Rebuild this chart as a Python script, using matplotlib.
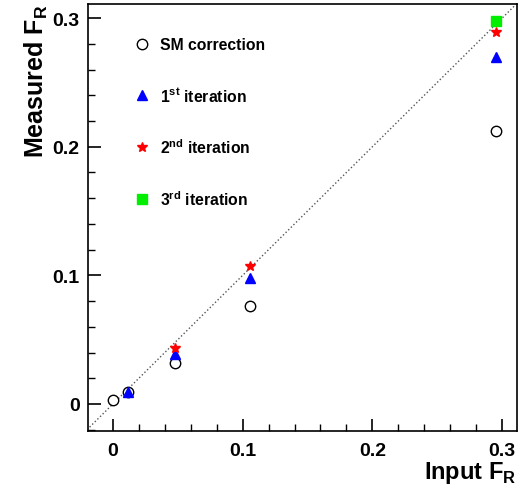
import numpy as np
import matplotlib.pyplot as plt
from matplotlib.ticker import MultipleLocator

plt.rcParams['font.family'] = ['Liberation Sans', 'DejaVu Sans']
plt.rcParams['font.weight'] = 'bold'
plt.rcParams['mathtext.fontset'] = 'custom'
plt.rcParams['mathtext.rm'] = 'Liberation Sans:bold'
plt.rcParams['mathtext.bf'] = 'Liberation Sans:bold'

# input and measured F_R for each correction step
sm_x = [0.0, 0.012, 0.0477, 0.106, 0.295]
sm_y = [0.0033, 0.009, 0.032, 0.0764, 0.212]
it1_x = [0.012, 0.0477, 0.106, 0.295]
it1_y = [0.009, 0.039, 0.098, 0.2696]
it2_x = [0.0477, 0.106, 0.295]
it2_y = [0.0435, 0.1075, 0.289]
it3_x = [0.295]
it3_y = [0.298]

fig = plt.figure(figsize=(5.22, 4.89), dpi=100)
ax = fig.add_axes([88 / 522, 57 / 489, 429 / 522, 427 / 489])

ax.plot([-0.02, 0.31], [-0.02, 0.31], ls=':', color='#555555', lw=1.0, zorder=1)

ax.plot(sm_x, sm_y, 'o', mfc='white', mec='black', mew=1.0, ms=7.5, ls='none',
        label='SM correction', zorder=2)
ax.plot(it1_x, it1_y, '^', color='blue', ms=7, ls='none',
        label=r'1$^{\mathrm{st}}$ iteration', zorder=3)
ax.plot(it2_x, it2_y, '*', color='red', ms=7, ls='none',
        label=r'2$^{\mathrm{nd}}$ iteration', zorder=4)
ax.plot(it3_x, it3_y, 's', color='#00ee00', ms=7, ls='none',
        label=r'3$^{\mathrm{rd}}$ iteration', zorder=5)

ax.set_xlim(-0.0192, 0.3115)
ax.set_ylim(-0.021, 0.311)

ax.xaxis.set_major_locator(MultipleLocator(0.1))
ax.yaxis.set_major_locator(MultipleLocator(0.1))
ax.xaxis.set_minor_locator(MultipleLocator(0.02))
ax.yaxis.set_minor_locator(MultipleLocator(0.02))
fmt = plt.FuncFormatter(lambda v, p: '0' if abs(v) < 1e-9 else f'{v:.1f}')
ax.xaxis.set_major_formatter(fmt)
ax.yaxis.set_major_formatter(fmt)
ax.tick_params(which='major', direction='in', length=9, width=1.2, labelsize=14, pad=6)
ax.tick_params(axis='x', which='major', pad=8)
ax.tick_params(which='minor', direction='in', length=5, width=1.0)
for s in ax.spines.values():
    s.set_linewidth(1.2)

ax.set_xlabel(r'Input F$_{\mathrm{R}}$', fontsize=17, fontweight='bold', loc='right', labelpad=0)
ax.set_ylabel(r'Measured F$_{\mathrm{R}}$', fontsize=18, fontweight='bold', loc='top', labelpad=2)

ax.legend(loc='upper left', bbox_to_anchor=(0.07, 0.955), frameon=False,
          fontsize=11.3, labelspacing=2.12, handletextpad=0.6, handlelength=1.2)

fig.savefig('out.png', dpi=100)
